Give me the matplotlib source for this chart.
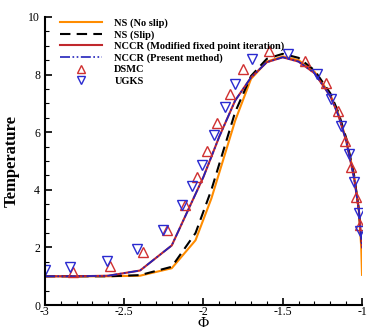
import numpy as np
import matplotlib
matplotlib.use("Agg")
import matplotlib.pyplot as plt
from matplotlib.ticker import MultipleLocator

plt.rcParams['font.family'] = ['Liberation Serif', 'DejaVu Serif']
plt.rcParams['mathtext.fontset'] = 'stix'

# NS (no slip)
ns_x = [-3.0, -2.8, -2.6, -2.4, -2.2, -2.05, -1.95, -1.9, -1.8, -1.7, -1.6, -1.5,
        -1.4, -1.3, -1.2, -1.15, -1.1, -1.05, -1.02, -1.005, -1.0]
ns_y = [1.0, 1.0, 1.0, 1.02, 1.28, 2.25, 3.7, 4.6, 6.4, 7.85, 8.45, 8.63,
        8.5, 8.1, 7.3, 6.65, 5.75, 4.5, 3.3, 2.0, 1.05]

# NS (slip)
nss_x = [-3.0, -2.8, -2.6, -2.4, -2.2, -2.05, -1.95, -1.9, -1.8, -1.7, -1.6, -1.5,
         -1.4, -1.3, -1.2, -1.15, -1.1, -1.05, -1.02, -1.0]
nss_y = [1.0, 1.0, 1.0, 1.04, 1.33, 2.5, 4.0, 4.9, 6.7, 7.95, 8.55, 8.72,
         8.58, 8.15, 7.35, 6.7, 5.8, 4.5, 3.3, 2.0]

# NCCR (modified fixed point iteration) / NCCR (present method)
nccr_x = [-3.0, -2.8, -2.6, -2.4, -2.2, -2.0, -1.9, -1.8, -1.7, -1.6, -1.5,
          -1.4, -1.3, -1.2, -1.15, -1.1, -1.05, -1.02, -1.0]
nccr_y = [1.0, 1.0, 1.02, 1.2, 2.07, 4.45, 5.85, 7.1, 7.9, 8.43, 8.6,
          8.45, 8.05, 7.25, 6.6, 5.7, 4.4, 3.3, 2.0]

# DSMC
dsmc_x = [-2.82, -2.59, -2.38, -2.23, -2.116, -2.04, -1.98, -1.915, -1.835, -1.75,
          -1.588, -1.361, -1.228, -1.154, -1.106, -1.07, -1.038, -1.013]
dsmc_y = [1.16, 1.37, 1.85, 2.6, 3.47, 4.45, 5.36, 6.31, 7.33, 8.18,
          8.82, 8.48, 7.7, 6.72, 5.7, 4.8, 3.76, 2.78]

# UGKS
ugks_x = [-3.0, -2.84, -2.61, -2.418, -2.253, -2.137, -2.073, -2.01, -1.936, -1.862,
          -1.80, -1.697, -1.465, -1.287, -1.197, -1.131, -1.08, -1.053, -1.021, -1.011]
ugks_y = [1.22, 1.33, 1.54, 1.93, 2.6, 3.47, 4.12, 4.87, 5.9, 6.86,
          7.67, 8.53, 8.70, 8.02, 7.14, 6.22, 5.23, 4.28, 3.18, 2.57]

fig = plt.figure(figsize=(3.74, 3.32), dpi=100)
ax = fig.add_axes([0.120, 0.081, 0.848, 0.868])

ax.plot(ns_x, ns_y, color='#FF8C00', lw=1.5, label='NS (No slip)')
ax.plot(nss_x, nss_y, color='black', lw=1.5, ls=(0, (5, 3)), label='NS (Slip)')
ax.plot(nccr_x, nccr_y, color='#C0282D', lw=1.5, label='NCCR (Modified fixed point iteration)')
ax.plot(nccr_x, nccr_y, color='#2222BB', lw=1.2, ls=(0, (6, 1.5, 1, 1.5, 1, 1.5)),
        label='NCCR (Present method)')
ax.plot(dsmc_x, dsmc_y, ls='none', marker='^', ms=6.5, mfc='none', mec='#D03030', mew=1.0,
        label='DSMC')
ax.plot(ugks_x, ugks_y, ls='none', marker='v', ms=6.5, mfc='none', mec='#2A2AD0', mew=1.0,
        label='UGKS')

ax.set_xlim(-3, -1)
ax.set_ylim(0, 10)
ax.xaxis.set_major_locator(MultipleLocator(0.5))
ax.xaxis.set_minor_locator(MultipleLocator(0.1))
ax.yaxis.set_major_locator(MultipleLocator(2))
ax.yaxis.set_minor_locator(MultipleLocator(0.5))
ax.xaxis.set_major_formatter(plt.FuncFormatter(lambda v, p: ('%g' % v)))
ax.tick_params(which='both', direction='in', labelsize=8.5, width=1.2)
ax.tick_params(which='major', length=5)
ax.tick_params(which='minor', length=3, width=0.8)
ax.tick_params(axis='x', pad=1)
ax.spines['top'].set_visible(False)
ax.spines['right'].set_visible(False)
ax.spines['left'].set_linewidth(1.5)
ax.spines['bottom'].set_linewidth(1.5)

ax.set_xlabel('Φ', fontsize=11)
ax.xaxis.set_label_coords(0.5, -0.042)
ax.set_ylabel('Temperature', fontsize=12, fontweight='bold', labelpad=6)

leg = ax.legend(loc='upper left', bbox_to_anchor=(0.035, 1.01), frameon=False,
                prop={'weight': 'bold', 'size': 7.5}, handlelength=4.0, markerscale=0.8,
                labelspacing=0.2, handletextpad=1.2, borderaxespad=0)

fig.savefig('out.png', dpi=100)
